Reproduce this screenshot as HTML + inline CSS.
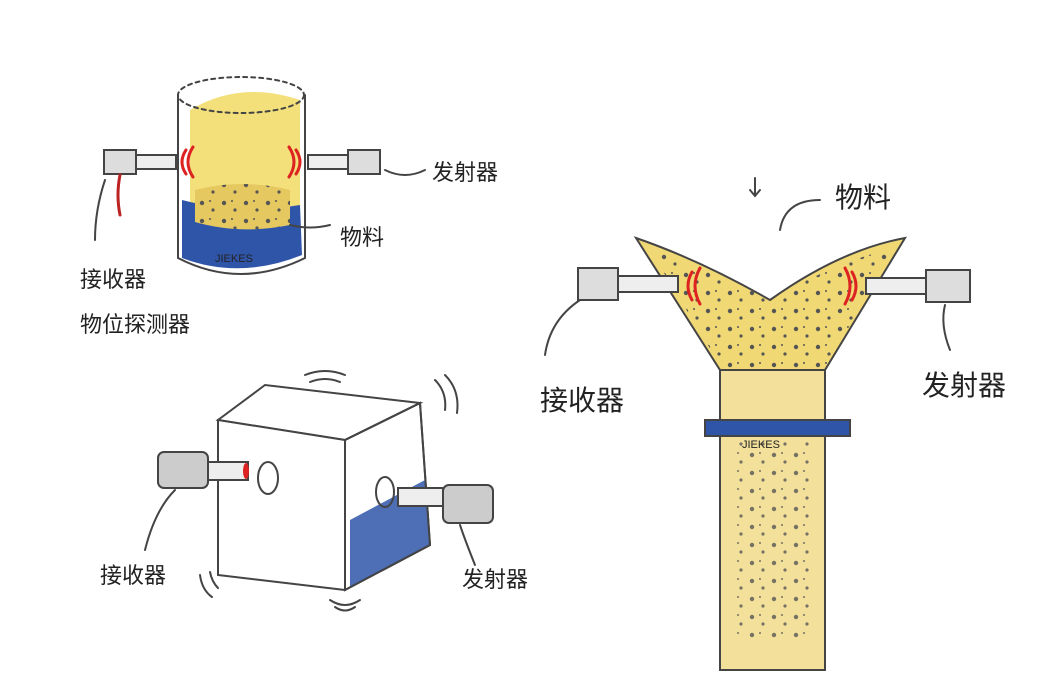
<!DOCTYPE html>
<html><head><meta charset="utf-8"><style>
html,body{margin:0;padding:0;background:#fff;width:1060px;height:680px;overflow:hidden}
text{font-family:"Liberation Sans","WenQuanYi Zen Hei","Noto Sans CJK SC",sans-serif;fill:#222}
</style></head><body>
<svg width="1060" height="680" viewBox="0 0 1060 680" xmlns="http://www.w3.org/2000/svg">
<defs>
<pattern id="dots" width="22" height="18" patternUnits="userSpaceOnUse">
<circle cx="4" cy="5" r="2.2" fill="#555"/><circle cx="15" cy="12" r="1.6" fill="#555"/><circle cx="12" cy="3" r="1" fill="#555"/>
</pattern>
</defs>
<g stroke="#444" stroke-width="2" fill="none" stroke-linecap="round">
<!-- Cylinder -->
<path d="M190,110 Q240,80 300,100 L300,245 Q240,270 190,250 Z" fill="#f3e07a" stroke="none"/>
<path d="M182,200 Q240,215 300,205 L302,255 Q240,280 182,258 Z" fill="#2f55a8" stroke="none"/>
<path d="M195,190 Q240,178 290,190 L290,225 Q240,235 195,222 Z" fill="#e6c860" stroke="none"/>
<path d="M195,190 Q240,178 290,190 L290,225 Q240,235 195,222 Z" fill="url(#dots)" stroke="none"/>
<ellipse cx="241" cy="95" rx="63" ry="18" stroke-dasharray="4 4"/>
<path d="M178,95 L178,258 Q240,290 305,258 L305,95"/>
<text x="215" y="262" font-size="11" fill="#fff" stroke="none">JIEKES</text>
<rect x="104" y="150" width="32" height="24" fill="#ddd"/>
<rect x="136" y="155" width="40" height="14" fill="#eee"/>
<rect x="308" y="155" width="40" height="14" fill="#eee"/>
<rect x="348" y="150" width="32" height="24" fill="#ddd"/>
<path d="M186,150 q-8,12 0,24 M193,147 q-10,15 0,30" stroke="#d22" stroke-width="3"/>
<path d="M296,150 q8,12 0,24 M289,147 q10,15 0,30" stroke="#d22" stroke-width="3"/>
<path d="M120,175 q-4,20 0,40" stroke="#b22" stroke-width="3"/>
<path d="M105,180 q-10,30 -10,60"/>
<path d="M385,170 q20,10 40,0"/>
<path d="M290,225 q20,5 40,0"/>
<!-- Cube -->
<path d="M345,440 L420,403 L430,545 L345,590 Z" fill="#fff"/>
<path d="M350,520 L425,480 L430,545 L350,588 Z" fill="#2f55a8" stroke="none" opacity=".85"/>
<path d="M218,420 L265,385 L420,403 L345,440 Z"/>
<path d="M218,420 L345,440 L345,590 L218,575 Z" fill="#fff"/>
<path d="M345,440 L420,403 L430,545 L345,590"/>
<rect x="158" y="452" width="50" height="36" rx="6" fill="#ccc"/>
<rect x="208" y="462" width="40" height="18" fill="#eee"/>
<ellipse cx="246" cy="471" rx="3" ry="8" fill="#d22" stroke="none"/>
<ellipse cx="268" cy="478" rx="10" ry="16"/>
<ellipse cx="385" cy="492" rx="9" ry="15"/>
<rect x="398" y="488" width="45" height="18" fill="#eee"/>
<rect x="443" y="485" width="50" height="38" rx="6" fill="#ccc"/>
<path d="M175,490 q-20,20 -30,60"/>
<path d="M460,525 q5,15 15,40"/>
<path d="M305,375 q20,-8 40,0 M310,382 q15,-6 30,0"/>
<path d="M435,380 q12,12 10,30 M445,375 q15,15 12,38"/>
<path d="M200,575 q2,15 12,22 M210,572 q2,10 8,16"/>
<path d="M330,600 q15,10 30,0 M335,607 q10,7 20,0"/>
<!-- Funnel -->
<path d="M636,238 Q700,260 770,300 Q840,250 905,238 L825,370 L720,370 Z" fill="#f0d874"/>
<path d="M650,250 Q700,265 770,300 Q840,260 895,248 L825,368 L722,368 Z" fill="url(#dots)" stroke="none"/>
<rect x="720" y="370" width="105" height="300" fill="#f3e09a"/>
<rect x="735" y="440" width="80" height="200" fill="url(#dots)" stroke="none" opacity=".8"/>
<path d="M720,370 L720,670 M825,370 L825,670 M720,370 L825,370"/>
<path d="M705,420 L850,420 L850,436 L705,436 Z" fill="#2f55a8"/>
<text x="742" y="448" font-size="11" stroke="none">JIEKES</text>
<rect x="578" y="268" width="40" height="32" fill="#ddd"/>
<rect x="618" y="276" width="60" height="16" fill="#eee"/>
<rect x="866" y="278" width="60" height="16" fill="#eee"/>
<rect x="926" y="270" width="44" height="32" fill="#ddd"/>
<path d="M692,272 q-8,14 0,28 M700,268 q-10,18 0,36" stroke="#d22" stroke-width="3"/>
<path d="M852,272 q8,14 0,28 M845,268 q10,18 0,36" stroke="#d22" stroke-width="3"/>
<path d="M580,300 q-30,20 -35,55"/>
<path d="M945,305 q-5,20 5,45"/>
<path d="M755,178 L755,196 M750,190 L755,196 L760,190"/>
<path d="M780,230 q5,-30 40,-30"/>
</g>
<g font-size="22" stroke="none">
<text x="432" y="180">发射器</text>
<text x="340" y="245">物料</text>
<text x="80" y="287">接收器</text>
<text x="80" y="332">物位探测器</text>
<text x="100" y="583">接收器</text>
<text x="462" y="587">发射器</text>
<text x="835" y="207" font-size="28">物料</text>
<text x="540" y="410" font-size="28">接收器</text>
<text x="922" y="395" font-size="28">发射器</text>
</g>
</svg>
</body></html>
